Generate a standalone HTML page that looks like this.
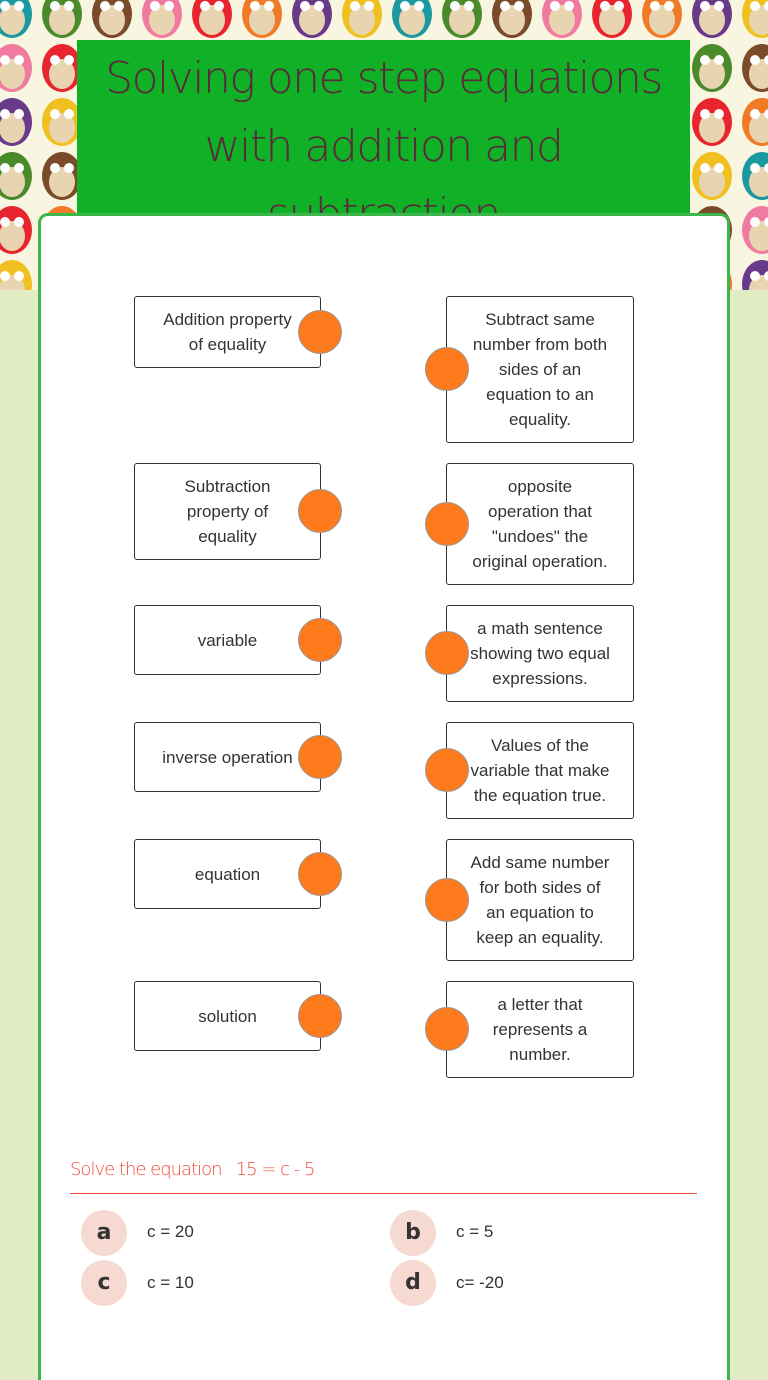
<!DOCTYPE html>
<html><head><meta charset="utf-8"><style>
html,body{margin:0;width:768px;height:1380px;overflow:hidden;}
body{position:relative;background:#e1ecc5;font-family:"Liberation Sans",sans-serif;}
.abs{position:absolute;}
.box{position:absolute;border:1px solid #333;border-radius:3px;background:#fff;box-sizing:border-box;display:flex;align-items:center;justify-content:center;text-align:center;font-size:17px;line-height:25px;color:#333;}
.dot{position:absolute;width:42px;height:42px;border-radius:50%;background:#fd7b1c;border:1px solid #999;}
.opt{position:absolute;width:46px;height:46px;border-radius:50%;background:#f6dad2;text-align:center;line-height:46px;font-size:22px;font-weight:bold;color:#333;font-family:"DejaVu Sans",sans-serif;}
.ot{position:absolute;font-size:17px;color:#333;}
</style></head><body>
<svg class="abs" style="left:0;top:0" width="768" height="290">
<rect width="768" height="290" fill="#f8f5e0"/>
<g id="owls"></g>
</svg>
<script>
var g=document.getElementById('owls');var cols=['#1a9aa0','#4a8a2a','#7a4a2a','#f07aa0','#e8242e','#f07a28','#6a3a8a','#f0c020'];
var s='';for(var r=0;r<6;r++){for(var c=0;c<16;c++){var x=12+c*50,y=14+r*54;var col=cols[(c+r*3)%8];
s+='<ellipse cx="'+x+'" cy="'+y+'" rx="20" ry="24" fill="'+col+'"/><ellipse cx="'+x+'" cy="'+(y+6)+'" rx="13" ry="15" fill="#e8d4b0"/><circle cx="'+(x-7)+'" cy="'+(y-8)+'" r="5" fill="#fff"/><circle cx="'+(x+7)+'" cy="'+(y-8)+'" r="5" fill="#fff"/>';}}
g.innerHTML=s;
</script>
<div class="abs" style="left:77px;top:40px;width:613px;height:175px;background:#10b027;overflow:hidden;text-align:center;color:#5a2a3a;font-family:'DejaVu Sans',sans-serif;font-weight:200;font-size:44px;line-height:68px;padding-top:5px;box-sizing:border-box;letter-spacing:-1.5px;">Solving one step equations<br>with addition and<br>subtraction</div>
<div class="abs" style="left:38px;top:213px;width:692px;height:1167px;background:#fff;border:3px solid #3cb54a;border-bottom:none;border-radius:10px 10px 0 0;box-sizing:border-box;"></div>

<div class="box" style="left:134px;top:296px;width:187px;height:72px">Addition property<br>of equality</div>
<div class="box" style="left:446px;top:296px;width:188px;height:147px">Subtract same<br>number from both<br>sides of an<br>equation to an<br>equality.</div>
<div class="box" style="left:134px;top:463px;width:187px;height:97px">Subtraction<br>property of<br>equality</div>
<div class="box" style="left:446px;top:463px;width:188px;height:122px">opposite<br>operation that<br>"undoes" the<br>original operation.</div>
<div class="box" style="left:134px;top:605px;width:187px;height:70px">variable</div>
<div class="box" style="left:446px;top:605px;width:188px;height:97px">a math sentence<br>showing two equal<br>expressions.</div>
<div class="box" style="left:134px;top:722px;width:187px;height:70px">inverse operation</div>
<div class="box" style="left:446px;top:722px;width:188px;height:97px">Values of the<br>variable that make<br>the equation true.</div>
<div class="box" style="left:134px;top:839px;width:187px;height:70px">equation</div>
<div class="box" style="left:446px;top:839px;width:188px;height:122px">Add same number<br>for both sides of<br>an equation to<br>keep an equality.</div>
<div class="box" style="left:134px;top:981px;width:187px;height:70px">solution</div>
<div class="box" style="left:446px;top:981px;width:188px;height:97px">a letter that<br>represents a<br>number.</div>

<div class="dot" style="left:298px;top:310px"></div><div class="dot" style="left:425px;top:347px"></div>
<div class="dot" style="left:298px;top:489px"></div><div class="dot" style="left:425px;top:502px"></div>
<div class="dot" style="left:298px;top:618px"></div><div class="dot" style="left:425px;top:631px"></div>
<div class="dot" style="left:298px;top:735px"></div><div class="dot" style="left:425px;top:748px"></div>
<div class="dot" style="left:298px;top:852px"></div><div class="dot" style="left:425px;top:878px"></div>
<div class="dot" style="left:298px;top:994px"></div><div class="dot" style="left:425px;top:1007px"></div>

<div class="abs" style="left:70px;top:1159px;font-family:'DejaVu Sans',sans-serif;font-weight:200;font-size:18px;color:#f04a3a;letter-spacing:-1px;">Solve the equation&nbsp;&nbsp;&nbsp;15 = c - 5</div>
<div class="abs" style="left:70px;top:1193px;width:627px;height:1px;border-top:1px solid #f04a3a"></div>
<div class="opt" style="left:81px;top:1210px">a</div><div class="ot" style="left:147px;top:1222px">c = 20</div>
<div class="opt" style="left:390px;top:1210px">b</div><div class="ot" style="left:456px;top:1222px">c = 5</div>
<div class="opt" style="left:81px;top:1260px">c</div><div class="ot" style="left:147px;top:1273px">c = 10</div>
<div class="opt" style="left:390px;top:1260px">d</div><div class="ot" style="left:456px;top:1273px">c= -20</div>
</body></html>
